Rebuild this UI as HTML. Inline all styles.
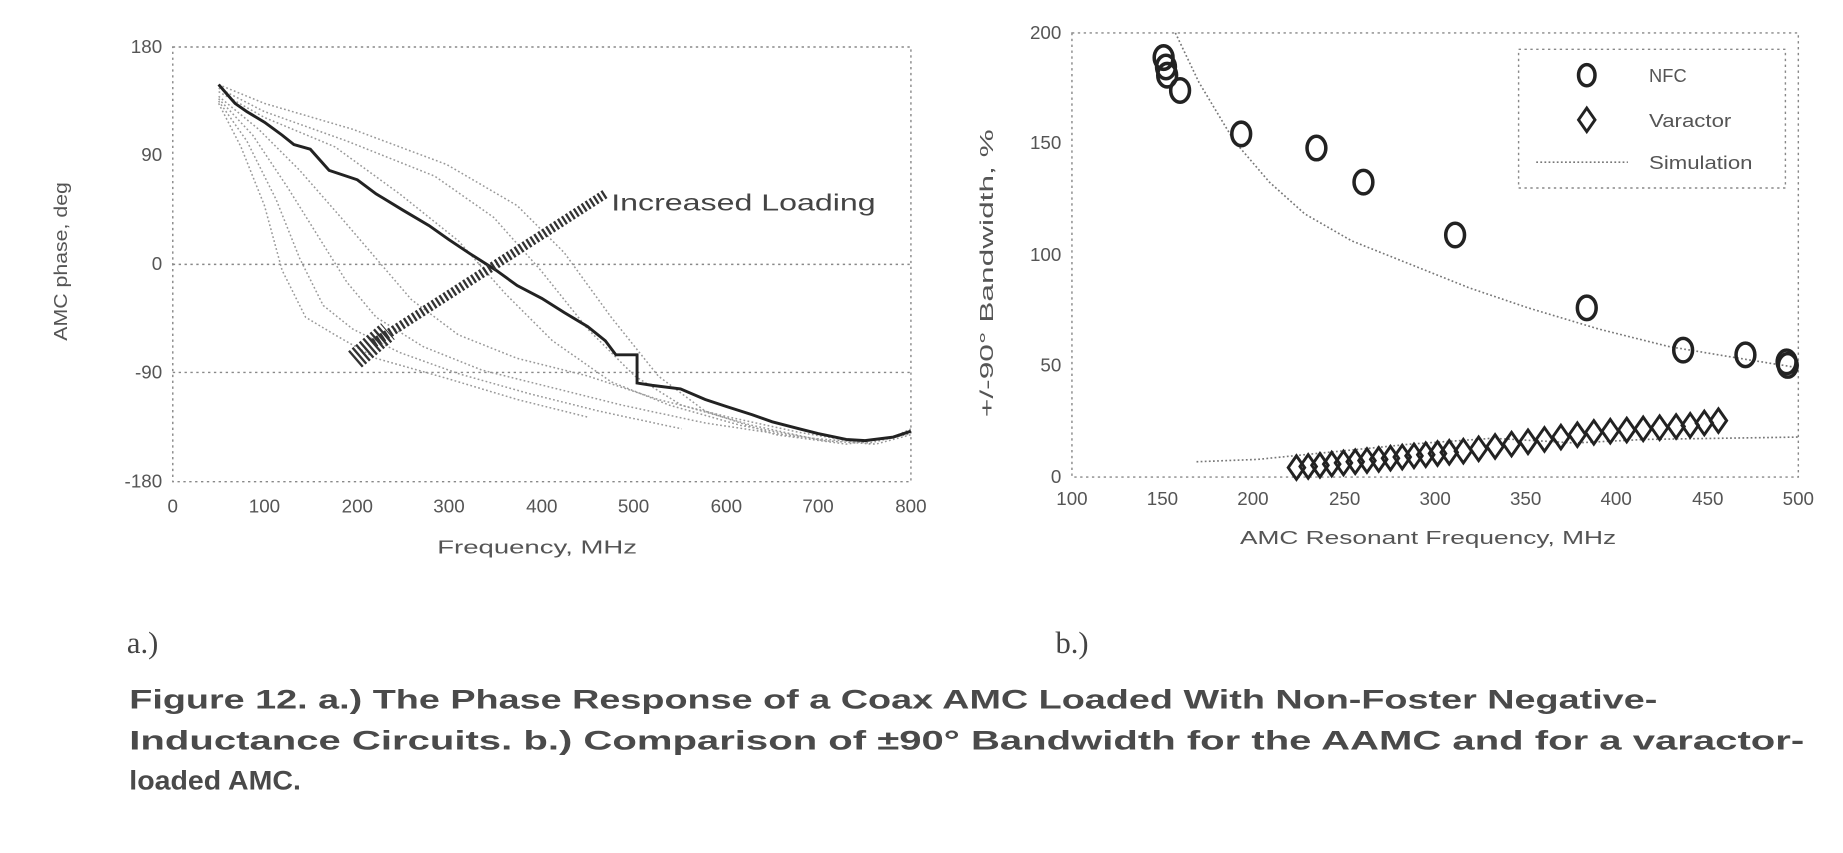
<!DOCTYPE html>
<html><head><style>
html,body{margin:0;padding:0;background:#fff;}
svg{display:block}
</style></head><body>
<svg width="1843" height="853" viewBox="0 0 1568 726" preserveAspectRatio="none" xmlns="http://www.w3.org/2000/svg">
<rect width="1568" height="726" fill="#fff"/>
<g font-family="Liberation Sans, sans-serif" fill="#555">
<!-- Chart a -->
<g stroke="#888" stroke-width="1.2" stroke-dasharray="2,3" fill="none">
<rect x="147" y="40" width="628" height="370"/>
<line x1="147" y1="225" x2="775" y2="225"/>
<line x1="147" y1="317" x2="775" y2="317"/>
</g>
<g font-size="16" text-anchor="end">
<text x="138" y="45">180</text><text x="138" y="137">90</text><text x="138" y="230">0</text><text x="138" y="322">-90</text><text x="138" y="415">-180</text>
</g>
<g font-size="16" text-anchor="middle">
<text x="147" y="436">0</text><text x="225" y="436">100</text><text x="304" y="436">200</text><text x="382" y="436">300</text><text x="461" y="436">400</text><text x="539" y="436">500</text><text x="618" y="436">600</text><text x="696" y="436">700</text><text x="775" y="436">800</text>
</g>
<text x="372" y="471" font-size="16" textLength="170" lengthAdjust="spacingAndGlyphs">Frequency, MHz</text>
<text font-size="16" transform="translate(57,290) rotate(-90)" textLength="135" lengthAdjust="spacingAndGlyphs">AMC phase, deg</text>
<g stroke="#999" stroke-width="1.3" stroke-dasharray="1.5,2" fill="none">
<polyline points="186,72 225,88 300,110 380,140 440,175 480,215 520,270 560,320 600,350 660,370 720,378 760,372 775,365"/>
<polyline points="186,75 225,95 295,120 370,150 420,185 460,230 500,280 540,320 580,345 640,362 700,375 745,378 775,370"/>
<polyline points="186,78 225,100 285,125 340,165 390,205 430,250 470,290 520,325 570,345 630,362 690,373 740,377 775,369"/>
<polyline points="186,82 220,110 255,145 290,185 320,220 350,255 390,285 440,305 500,320 560,340 620,355 680,368 740,378"/>
<polyline points="186,84 215,115 245,160 270,200 295,240 320,270 360,295 410,315 470,330 530,345 600,360 680,372"/>
<polyline points="186,86 210,120 235,170 255,220 275,260 300,280 340,300 390,318 450,335 510,350 580,365"/>
<polyline points="186,88 205,125 225,175 240,230 260,270 285,285 320,305 380,322 440,340 500,355"/>
</g>
<polyline fill="none" stroke="#222" stroke-width="2.5" points="186,72 193,80 200,88 210,95 225,104 240,115 250,123 264,127 280,145 304,153 320,165 343,179 365,192 382,204 400,216 422,230 440,243 461,254 480,266 500,278 515,290 524,302 539,302 542,302 542,326 555,328 579,331 600,340 618,346 640,353 657,359 680,365 696,369 720,374 736,375 760,372 775,367"/>
<line x1="318" y1="292" x2="515" y2="165" stroke="#333" stroke-width="8" stroke-dasharray="2,2"/>
<line x1="302" y1="306" x2="330" y2="282" stroke="#333" stroke-width="18" stroke-dasharray="2,2"/>
<text x="520" y="179" font-size="20" fill="#444" textLength="225" lengthAdjust="spacingAndGlyphs">Increased Loading</text>

<!-- Chart b -->
<g stroke="#888" stroke-width="1.2" stroke-dasharray="2,3" fill="none">
<rect x="912" y="28" width="618" height="378"/>
<rect x="1292" y="42" width="227" height="118"/>
</g>
<g font-size="16" text-anchor="end">
<text x="903" y="33">200</text><text x="903" y="127">150</text><text x="903" y="222">100</text><text x="903" y="316">50</text><text x="903" y="411">0</text>
</g>
<g font-size="16" text-anchor="middle">
<text x="912" y="430">100</text><text x="989" y="430">150</text><text x="1066" y="430">200</text><text x="1144" y="430">250</text><text x="1221" y="430">300</text><text x="1298" y="430">350</text><text x="1375" y="430">400</text><text x="1453" y="430">450</text><text x="1530" y="430">500</text>
</g>
<text x="1055" y="463" font-size="16" textLength="320" lengthAdjust="spacingAndGlyphs">AMC Resonant Frequency, MHz</text>
<text font-size="16" transform="translate(845,355) rotate(-90)" textLength="245" lengthAdjust="spacingAndGlyphs">+/-90° Bandwidth, %</text>
<g stroke="#777" stroke-width="1.4" stroke-dasharray="1.5,2" fill="none">
<polyline points="1000,28 1020,70 1050,120 1080,155 1110,182 1150,205 1200,225 1250,245 1300,262 1360,280 1420,295 1480,305 1530,313"/>
<polyline points="1018,393 1070,391 1130,385 1200,378 1270,373 1340,377 1400,374 1530,372"/>
</g>
<g stroke="#222" stroke-width="3" fill="none">
<ellipse cx="990" cy="49" rx="8" ry="10"/><ellipse cx="992" cy="57" rx="8" ry="10"/><ellipse cx="993" cy="64" rx="8" ry="10"/><ellipse cx="1004" cy="77" rx="8" ry="10"/>
<ellipse cx="1056" cy="114" rx="8" ry="10"/><ellipse cx="1120" cy="126" rx="8" ry="10"/><ellipse cx="1160" cy="155" rx="8" ry="10"/><ellipse cx="1238" cy="200" rx="8" ry="10"/>
<ellipse cx="1350" cy="262" rx="8" ry="10"/><ellipse cx="1432" cy="298" rx="8" ry="10"/><ellipse cx="1485" cy="302" rx="8" ry="10"/><ellipse cx="1520" cy="308" rx="8" ry="10"/><ellipse cx="1521" cy="311" rx="8" ry="10"/>
<ellipse cx="1350" cy="64" rx="7" ry="9"/>
</g>
<g stroke="#222" stroke-width="2.5" fill="none">
<path d="M1103,388 l7,10 l-7,10 l-7,-10z"/><path d="M1113,387 l7,10 l-7,10 l-7,-10z"/><path d="M1123,386 l7,10 l-7,10 l-7,-10z"/><path d="M1133,385 l7,10 l-7,10 l-7,-10z"/><path d="M1143,384 l7,10 l-7,10 l-7,-10z"/><path d="M1153,383 l7,10 l-7,10 l-7,-10z"/><path d="M1163,382 l7,10 l-7,10 l-7,-10z"/><path d="M1173,381 l7,10 l-7,10 l-7,-10z"/><path d="M1183,380 l7,10 l-7,10 l-7,-10z"/><path d="M1193,379 l7,10 l-7,10 l-7,-10z"/><path d="M1203,378 l7,10 l-7,10 l-7,-10z"/><path d="M1213,377 l7,10 l-7,10 l-7,-10z"/><path d="M1223,376 l7,10 l-7,10 l-7,-10z"/><path d="M1233,375 l7,10 l-7,10 l-7,-10z"/><path d="M1245,374 l7,10 l-7,10 l-7,-10z"/><path d="M1258,372 l7,10 l-7,10 l-7,-10z"/><path d="M1272,370 l7,10 l-7,10 l-7,-10z"/><path d="M1286,368 l7,10 l-7,10 l-7,-10z"/><path d="M1300,366 l7,10 l-7,10 l-7,-10z"/><path d="M1314,364 l7,10 l-7,10 l-7,-10z"/><path d="M1328,362 l7,10 l-7,10 l-7,-10z"/><path d="M1342,360 l7,10 l-7,10 l-7,-10z"/><path d="M1356,358 l7,10 l-7,10 l-7,-10z"/><path d="M1370,357 l7,10 l-7,10 l-7,-10z"/><path d="M1384,356 l7,10 l-7,10 l-7,-10z"/><path d="M1398,355 l7,10 l-7,10 l-7,-10z"/><path d="M1412,354 l7,10 l-7,10 l-7,-10z"/><path d="M1426,353 l7,10 l-7,10 l-7,-10z"/><path d="M1438,352 l7,10 l-7,10 l-7,-10z"/><path d="M1450,350 l7,10 l-7,10 l-7,-10z"/><path d="M1462,348 l7,10 l-7,10 l-7,-10z"/>
<path d="M1350,92 l7,10 l-7,10 l-7,-10z"/>
</g>
<line x1="1307" y1="138" x2="1385" y2="138" stroke="#777" stroke-width="1.4" stroke-dasharray="1.5,2"/>
<g font-size="16" fill="#555">
<text x="1403" y="70" textLength="32" lengthAdjust="spacingAndGlyphs">NFC</text><text x="1403" y="108" textLength="70" lengthAdjust="spacingAndGlyphs">Varactor</text><text x="1403" y="144" textLength="88" lengthAdjust="spacingAndGlyphs">Simulation</text>
</g>

<!-- labels and caption -->
<text x="108" y="556" font-family="Liberation Serif, serif" font-size="26" fill="#444">a.)</text>
<text x="898" y="556" font-family="Liberation Serif, serif" font-size="26" fill="#444">b.)</text>
<g font-size="23" font-weight="bold" fill="#4a4a4a">
<text x="110" y="603" textLength="1300" lengthAdjust="spacingAndGlyphs">Figure 12. a.) The Phase Response of a Coax AMC Loaded With Non-Foster Negative-</text>
<text x="110" y="638" textLength="1425" lengthAdjust="spacingAndGlyphs">Inductance Circuits. b.) Comparison of ±90° Bandwidth for the AAMC and for a varactor-</text>
<text x="110" y="672" textLength="146" lengthAdjust="spacingAndGlyphs">loaded AMC.</text>
</g>
</g>
</svg>
</body></html>
